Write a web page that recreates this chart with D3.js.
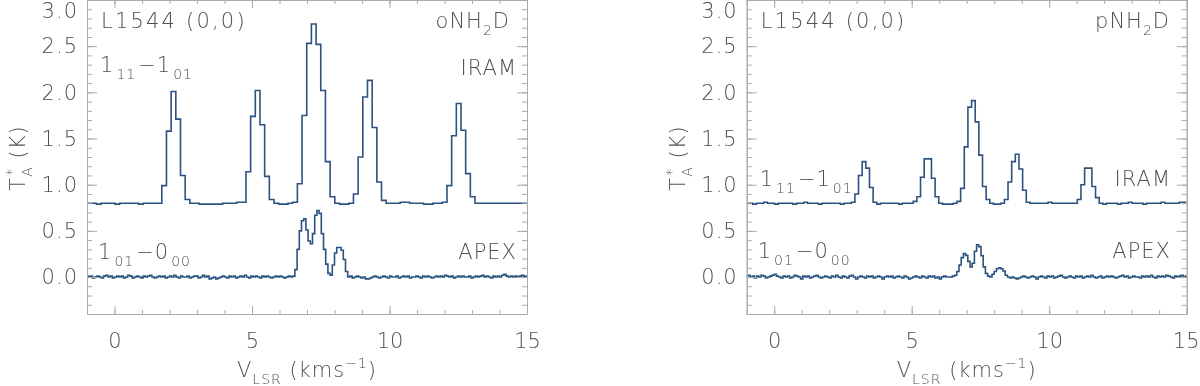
<!DOCTYPE html>
<html>
<head>
<meta charset="utf-8">
<script src="https://cdn.jsdelivr.net/npm/d3@7"></script>
<style>
  body { margin: 0; background: #fff; }
  svg { will-change: transform; }
  text { font-family: "DejaVu Sans", sans-serif; font-weight: 200; fill: #4f4f4f; letter-spacing: 1px; opacity: 0.999; }
</style>
</head>
<body>
<svg width="1200" height="386"></svg>
<script>
// o-NH2D 1_11-1_01 (IRAM), channel left edges start at -1.0, width 0.17 km/s
var iramOrthoStart = -1.0, iramOrthoWidth = 0.17;
var iramOrtho = [
  0.80,0.80,0.79,0.80,0.80,0.80,0.79,0.80,0.80,0.80,0.80,0.79,0.80,0.80,0.80,0.80,
  0.99,1.58,2.01,1.71,1.10,0.84,
  0.80,0.80,0.79,0.79,0.79,0.79,0.79,0.80,0.80,0.80,0.81,0.81,
  1.14,1.74,2.02,1.65,1.09,0.84,
  0.80,0.79,0.79,0.80,0.81,
  1.01,1.75,2.53,2.74,2.52,2.02,1.25,0.87,
  0.80,0.79,0.79,0.80,
  0.90,1.30,1.95,2.13,1.62,1.03,0.83,
  0.80,0.80,0.80,0.81,0.81,0.80,0.80,0.80,0.79,0.79,0.80,0.80,0.81,
  0.99,1.53,1.88,1.59,1.12,0.87,
  0.80,0.80,0.80,0.80,0.80,0.80,0.80,0.80,0.80,0.80,0.80,0.80
];

// p-NH2D 1_11-1_01 (IRAM), start -1.044, width 0.1326 km/s
var iramParaStart = -1.044, iramParaWidth = 0.1326;
var iramPara = [
  0.80,0.80,0.79,0.80,0.80,0.81,0.80,0.80,0.79,0.80,0.80,0.80,0.80,0.79,0.80,
  0.80,0.81,0.80,0.80,0.80,0.79,0.80,0.80,0.80,0.80,0.80,0.79,0.80,0.80,0.81,
  0.90,1.10,1.25,1.18,0.97,0.81,
  0.79,0.80,0.80,0.80,0.80,0.80,0.79,0.80,0.80,0.80,0.82,
  0.87,1.08,1.28,1.28,1.07,0.87,
  0.80,0.79,0.79,0.79,0.80,0.82,
  0.96,1.41,1.84,1.91,1.68,1.32,0.98,0.84,
  0.80,0.79,0.79,0.80,
  0.84,1.03,1.25,1.33,1.17,0.94,0.81,
  0.80,0.80,0.80,0.80,0.80,0.81,0.80,0.80,0.80,0.80,0.80,0.80,0.80,0.84,
  1.00,1.18,1.18,0.98,0.86,
  0.80,0.79,0.80,0.80,0.80,0.79,0.80,0.80,0.81,0.80,0.80,0.80,
  0.79,0.80,0.80,0.80,0.80,0.81,0.80,0.80,0.80,0.80,0.81,0.81
];

// APEX 1_01-0_00 spectra, start -1.04, width 0.08 km/s
var apexStart = -1.04, apexWidth = 0.08;
var apexOrtho = [
  0.01,0.00,0.01,-0.01,0.00,0.01,0.00,-0.01,0.01,0.02,0.00,0.01,-0.01,0.00,0.01,0.00,0.01,-0.01,0.00,0.02,
  0.01,-0.01,0.00,0.01,0.00,-0.01,0.01,0.00,0.01,0.02,0.00,-0.01,0.00,0.01,0.00,0.01,-0.01,0.00,0.01,0.00,
  0.02,0.00,-0.01,0.01,0.00,0.00,0.01,-0.01,0.00,0.01,0.01,-0.01,0.00,0.02,0.00,0.01,-0.02,-0.01,0.00,-0.02,
  -0.01,0.00,0.01,0.00,-0.01,0.01,0.00,0.01,-0.01,0.00,0.01,0.00,0.02,0.00,-0.01,0.01,0.00,0.01,0.00,-0.01,
  0.01,0.00,0.01,0.00,-0.01,0.00,0.01,0.00,0.01,0.00,-0.01,0.00,0.01,
  0.00,0.01,0.08,0.30,0.50,0.61,0.63,0.51,0.39,0.36,0.47,0.67,0.72,0.69,
  0.47,0.30,0.14,0.04,0.02,0.13,0.26,0.32,0.32,0.29,0.19,0.06,0.00,0.01,
  -0.01,0.00,0.01,0.00,-0.01,0.00,-0.02,-0.02,-0.01,0.00,0.01,0.00,-0.01,0.00,0.01,0.00,-0.01,0.01,0.00,0.00,
  0.01,-0.01,0.00,0.01,0.00,0.01,-0.01,0.00,0.00,0.01,0.00,-0.01,0.01,0.00,0.01,0.00,-0.01,0.00,0.01,0.00,
  0.01,0.00,0.02,0.01,0.00,0.01,-0.01,0.00,0.01,0.00,0.01,0.00,0.00,0.01,-0.01,0.00,0.01,0.00,0.01,0.02,
  0.00,0.01,0.00,-0.01,0.01,0.00,0.01,0.00,0.02,0.03,0.01,0.00,0.01,0.00,0.01,0.00,0.01,0.02,0.01,0.00
];
var apexPara = [
  0.01,0.02,0.00,0.01,-0.01,0.01,0.00,0.02,0.01,-0.01,0.00,0.01,0.02,0.03,0.01,0.00,-0.01,0.01,0.00,0.01,
  -0.01,0.00,0.02,0.01,0.00,-0.02,0.01,0.00,0.01,-0.01,0.00,0.01,0.02,0.00,-0.01,0.00,0.01,0.00,-0.01,0.01,
  0.00,0.02,0.00,-0.01,0.01,0.00,-0.01,0.01,0.02,0.00,-0.02,0.00,0.01,0.00,-0.01,0.01,0.00,0.01,-0.01,0.00,
  0.01,0.00,-0.02,0.00,0.01,0.00,0.01,-0.01,0.00,0.01,0.00,-0.01,0.01,0.00,-0.02,-0.01,0.00,0.01,0.00,-0.01,
  0.01,0.00,-0.01,0.01,0.00,0.01,-0.01,0.00,-0.02,0.00,0.01,0.00,0.00,
  0.00,0.01,0.02,0.06,0.13,0.21,0.255,0.235,0.17,0.11,0.15,0.28,0.35,0.33,
  0.23,0.11,0.04,0.01,0.00,0.03,0.06,0.09,0.10,0.09,0.065,0.02,0.00,-0.01,
  0.00,-0.01,-0.02,-0.01,0.00,0.01,0.00,-0.01,0.00,0.01,0.00,-0.02,0.00,0.01,0.00,-0.01,0.01,0.00,0.01,-0.01,
  0.00,0.01,0.02,0.00,-0.01,0.00,0.01,0.00,-0.01,0.01,0.00,0.01,-0.01,0.00,0.01,0.00,0.02,0.00,-0.01,0.00,
  0.01,-0.01,0.00,0.01,0.00,0.01,0.00,-0.01,0.00,0.01,0.02,0.00,0.01,-0.01,0.00,0.01,0.00,0.00,-0.01,0.01,
  0.00,0.01,0.00,0.02,0.00,-0.01,0.01,0.00,0.01,0.00,0.02,0.01,0.00,-0.01,0.01,0.00,0.01,0.02,0.00,0.01
];

var xDomain = [-1, 15], yDomain = [-0.4, 3.0];
var xMajor = [0, 5, 10, 15];
var yMajor = [0, 0.5, 1.0, 1.5, 2.0, 2.5, 3.0];

var svg = d3.select("svg");
var lineColor = "#2b5380", axisColor = "#ababab";
var plotW = 440, plotTop = 0, plotBottom = 314;

function steps(values, start, width) {
  var pts = values.map(function (v, i) { return [start + i * width, v]; });
  pts.push([start + values.length * width, values[values.length - 1]]);
  return pts;
}

// text with sub/superscripts: parts = [[string, "n"|"sub"|"sup", dx]]
function rich(g, x, y, parts, anchor) {
  var t = g.append("text").attr("x", x).attr("y", y).attr("text-anchor", anchor || "start")
    .attr("font-size", 21);
  var shift = 0;
  parts.forEach(function (p) {
    var target = p[1] == "sub" ? 7 : (p[1] == "sup" ? -9 : 0);
    var s = t.append("tspan").text(p[0]).attr("dy", target - shift);
    if (p[2]) s.attr("dx", p[2]);
    if (p[1] != "n") s.attr("font-size", 14);
    shift = target;
  });
  return t;
}

var panels = [
  { left: 87, iram: iramOrtho, iramStart: iramOrthoStart, iramWidth: iramOrthoWidth, apex: apexOrtho,
    species: "oNH", speciesEnd: 510, iramX: 517, iramY: 75, iramLabY: 72, apexX: 517, apexY: 259, apexLabY: 259 },
  { left: 746.7, iram: iramPara, iramStart: iramParaStart, iramWidth: iramParaWidth, apex: apexPara,
    species: "pNH", speciesEnd: 1170, iramX: 1171, iramY: 186, iramLabY: 186, apexX: 1171, apexY: 258, apexLabY: 258 }
];

panels.forEach(function (p, pi) {
  var x = d3.scaleLinear().domain(xDomain).range([p.left, p.left + plotW]);
  var y = d3.scaleLinear().domain(yDomain).range([plotBottom, plotTop]);
  var g = svg.append("g");

  var clipId = "clip" + pi;
  svg.append("clipPath").attr("id", clipId).append("rect")
    .attr("x", p.left).attr("y", plotTop).attr("width", plotW).attr("height", plotBottom - plotTop);

  var line = d3.line().x(function (d) { return x(d[0]); }).y(function (d) { return y(d[1]); })
    .curve(d3.curveStepAfter);

  g.append("path").datum(steps(p.iram, p.iramStart, p.iramWidth))
    .attr("clip-path", "url(#" + clipId + ")")
    .attr("fill", "none").attr("stroke", lineColor).attr("stroke-width", 1.6).attr("d", line);
  g.append("path").datum(steps(p.apex, apexStart, apexWidth))
    .attr("clip-path", "url(#" + clipId + ")")
    .attr("fill", "none").attr("stroke", lineColor).attr("stroke-width", 1.6).attr("d", line);

  // axes: box with inward ticks
  var minorX = d3.range(-1, 16, 1), minorY = d3.range(-4, 31, 1).map(function (d) { return d / 10; });
  function styleAxis(sel) {
    sel.selectAll("path.domain").attr("stroke", axisColor);
    sel.selectAll(".tick line").attr("stroke", axisColor);
  }
  var bottomMinor = g.append("g").attr("transform", "translate(0," + plotBottom + ")")
    .call(d3.axisBottom(x).tickValues(minorX).tickSize(-4).tickSizeOuter(0).tickFormat(""));
  var bottom = g.append("g").attr("transform", "translate(0," + plotBottom + ")")
    .call(d3.axisBottom(x).tickValues(xMajor).tickSize(-8).tickSizeOuter(0).tickPadding(19)
      .tickFormat(d3.format("d")));
  var topMinor = g.append("g").attr("transform", "translate(0," + plotTop + ")")
    .call(d3.axisTop(x).tickValues(minorX).tickSize(-4).tickSizeOuter(0).tickFormat(""));
  var topMajor = g.append("g").attr("transform", "translate(0," + plotTop + ")")
    .call(d3.axisTop(x).tickValues(xMajor).tickSize(-8).tickSizeOuter(0).tickFormat(""));
  var leftMinor = g.append("g").attr("transform", "translate(" + p.left + ",0)")
    .call(d3.axisLeft(y).tickValues(minorY).tickSize(-5).tickSizeOuter(0).tickFormat(""));
  var left = g.append("g").attr("transform", "translate(" + p.left + ",0)")
    .call(d3.axisLeft(y).tickValues(yMajor).tickSize(-10).tickSizeOuter(0).tickPadding(9)
      .tickFormat(d3.format(".1f")));
  var rightMinor = g.append("g").attr("transform", "translate(" + (p.left + plotW) + ",0)")
    .call(d3.axisRight(y).tickValues(minorY).tickSize(-5).tickSizeOuter(0).tickFormat(""));
  var rightMajor = g.append("g").attr("transform", "translate(" + (p.left + plotW) + ",0)")
    .call(d3.axisRight(y).tickValues(yMajor).tickSize(-10).tickSizeOuter(0).tickFormat(""));
  [bottomMinor, bottom, topMinor, topMajor, leftMinor, left, rightMinor, rightMajor].forEach(styleAxis);
  g.selectAll(".tick text").attr("font-family", null).attr("font-size", 21).attr("fill", null);
  bottom.selectAll(".tick text").style("letter-spacing", "0px");
  if (pi == 1) bottom.selectAll(".tick").filter(function (d) { return d === 15; }).select("text").attr("dx", -1);
  left.selectAll(".tick").filter(function (d) { return d === 3; }).select("text").attr("y", 11);

  // titles
  var mid = p.left + plotW / 2;
  rich(g, mid, 377, [["V", "n"], ["LSR", "sub"], [" (kms", "n"], ["\u22121", "sup"], [")", "n"]], "middle");
  var yt = g.append("g").attr("transform", "translate(" + (p.left - 62) + ",158) rotate(-90)");
  rich(yt, 0, 0, [["T", "n"], ["*", "sup", 1], ["A", "sub", -9], [" (K)", "n"]], "middle");

  // labels
  rich(g, p.left + 14, 28, [["L1544 (0,0)", "n"]]).style("letter-spacing", "2.2px");
  rich(g, p.speciesEnd, 28, [[p.species, "n"], ["2", "sub"], ["D", "n"]], "end");
  rich(g, p.iramX, p.iramY, [["IRAM", "n"]], "end");
  rich(g, p.left + 13, p.iramLabY, [["1", "n"], ["11", "sub", 2], ["\u22121", "n", 2], ["01", "sub", 2]]);
  rich(g, p.apexX, p.apexY, [["APEX", "n"]], "end");
  rich(g, p.left + 11, p.apexLabY, [["1", "n"], ["01", "sub", 2], ["\u22120", "n", 2], ["00", "sub", 2]]);
});
</script>
</body>
</html>
